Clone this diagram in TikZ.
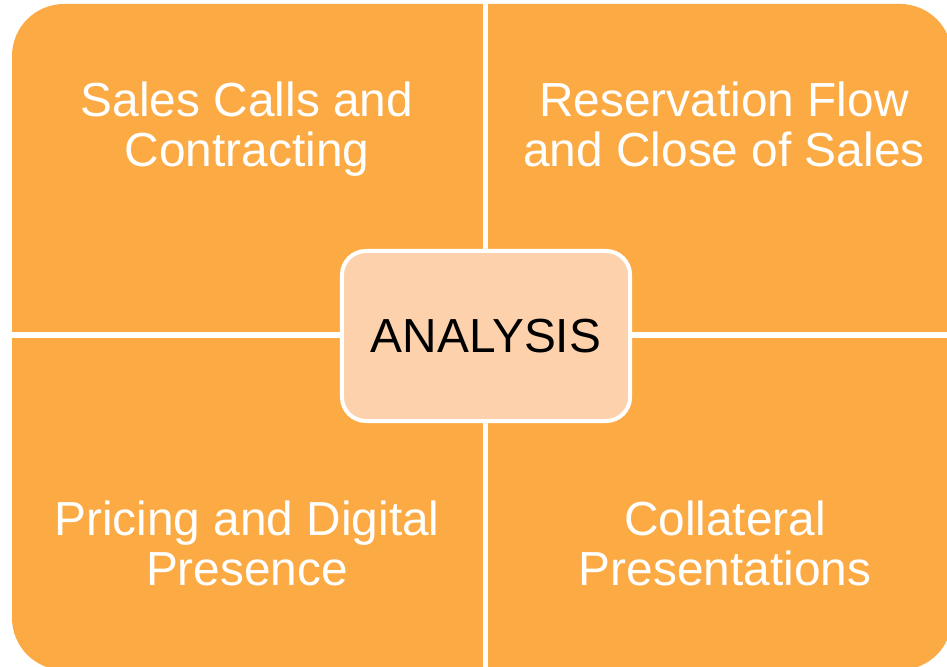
\documentclass[tikz,border=0pt]{standalone}
\usepackage{fontspec}
\setmainfont{Liberation Sans}
\usetikzlibrary{positioning}
\definecolor{quadOrange}{HTML}{FCAA44}
\definecolor{hubPeach}{HTML}{FDD1AC}

\begin{document}
\begin{tikzpicture}[
  x=0.025cm, y=0.025cm,
  every node/.style={font=\fontsize{34}{35.6}\selectfont},
  quadtext/.style={text=white, align=center, inner sep=0pt},
  gapline/.style={white, line width=0.13cm}
]
  \useasboundingbox (0,0) rectangle (947,666);

  % Orange block, cut into four quadrants by white gaps
  \begin{scope}
    \clip (0,0) rectangle (947,666);
    \fill[quadOrange, rounded corners=1.3cm] (12,-4) rectangle (952,662);
    \coordinate (gapN) at (485.5,670);
    \coordinate (gapS) at (485.5,-10);
    \coordinate (gapW) at (0,331);
    \coordinate (gapE) at (960,331);
    \draw[gapline] (gapN) -- (gapS);
    \draw[gapline] (gapW) -- (gapE);
  \end{scope}

  % Quadrant labels
  \node[quadtext] (sales) at (247,537) {Sales Calls and\\Contracting};
  \node[quadtext] (reserve) at (724,542) {Reservation Flow\\and Close of Sales};
  \node[quadtext] (pricing) at (247,123) {Pricing and Digital\\Presence};
  \node[quadtext] (collat) at (725,123) {Collateral\\Presentations};

  % Centre box
  \node[fill=hubPeach, draw=white, line width=0.1cm, rounded corners=0.6cm,
        minimum width=7.2cm, minimum height=4.25cm, text=black] (hub) at (486,330) {ANALYSIS};
\end{tikzpicture}
\end{document}
